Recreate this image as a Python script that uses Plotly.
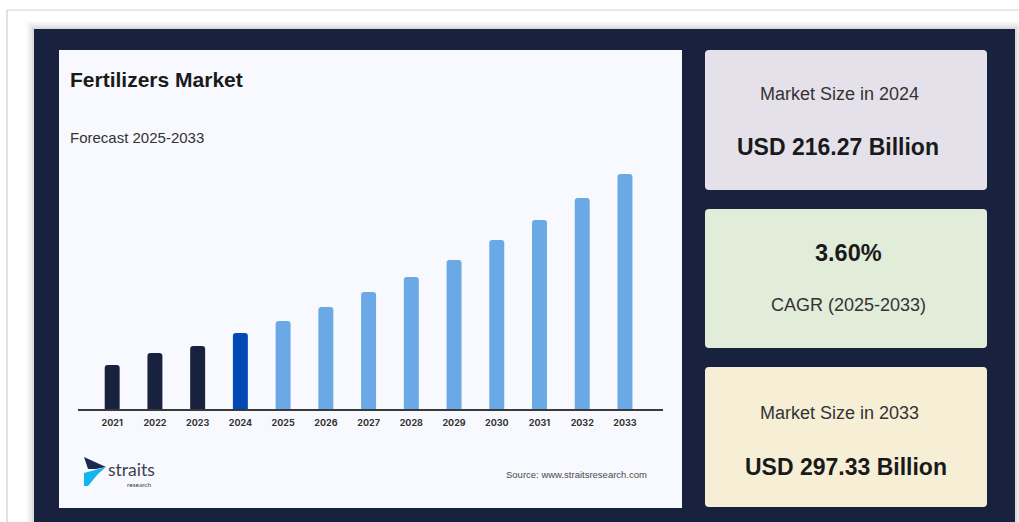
import plotly.graph_objects as go

# Fertilizers market size (USD billion), 2021-2033
years = ["2021", "2022", "2023", "2024", "2025", "2026", "2027",
         "2028", "2029", "2030", "2031", "2032", "2033"]
market_size = [199.95, 206.07, 209.64, 216.27, 222.38, 229.52, 237.17,
               244.81, 253.48, 263.68, 273.87, 285.09, 297.33]
bar_colors = ["#18223f", "#18223f", "#18223f", "#0249b4"] + ["#6aa8e6"] * 9

W, H = 1019, 522
NAVY = "#18223f"


def px(x):
    return x / W


def py(y):
    return 1 - y / H


def rounded_rect(x0, y0, x1, y1, r):
    pts = [
        ("M", x0 + r, y0), ("L", x1 - r, y0), ("Q", x1, y0, x1, y0 + r),
        ("L", x1, y1 - r), ("Q", x1, y1, x1 - r, y1), ("L", x0 + r, y1),
        ("Q", x0, y1, x0, y1 - r), ("L", x0, y0 + r), ("Q", x0, y0, x0 + r, y0),
    ]
    parts = []
    for p in pts:
        cmd, coords = p[0], p[1:]
        xy = []
        for i in range(0, len(coords), 2):
            xy.append(f"{px(coords[i]):.5f},{py(coords[i + 1]):.5f}")
        parts.append(cmd + " ".join(xy))
    return " ".join(parts) + " Z"


def poly(points):
    s = "M" + " L".join(f"{px(x):.5f},{py(y):.5f}" for x, y in points)
    return s + " Z"


shapes = []
# outer page frame
shapes.append(dict(type="line", xref="paper", yref="paper", x0=px(7), x1=1,
                   y0=py(10), y1=py(10), line=dict(color="#cfcfcf", width=1.2),
                   layer="below"))
shapes.append(dict(type="line", xref="paper", yref="paper", x0=px(7), x1=px(7),
                   y0=py(10), y1=0, line=dict(color="#cfcfcf", width=1.2),
                   layer="below"))
# soft shadow around the dark panel
for i, op in enumerate([0.02, 0.03, 0.04, 0.05]):
    g = 8 - 2 * i
    shapes.append(dict(type="rect", xref="paper", yref="paper",
                       x0=px(34 - g), x1=px(1015 + g), y0=py(524), y1=py(29 - g),
                       fillcolor="black", opacity=op, line=dict(width=0),
                       layer="below"))
# dark background panel
shapes.append(dict(type="rect", xref="paper", yref="paper",
                   x0=px(34), x1=px(1015), y0=py(524), y1=py(29),
                   fillcolor=NAVY, line=dict(width=0), layer="below"))
# chart card
shapes.append(dict(type="rect", xref="paper", yref="paper",
                   x0=px(59), x1=px(682), y0=py(508), y1=py(50),
                   fillcolor="#f8f9fe", line=dict(width=0), layer="below"))
# stat cards
for (y0, y1, col) in [(50, 190, "#e5e1ea"), (209, 348, "#e1ecd9"),
                      (367, 507, "#f6efd6")]:
    shapes.append(dict(type="path", xref="paper", yref="paper",
                       path=rounded_rect(705, y0, 987, y1, 4),
                       fillcolor=col, line=dict(width=0), layer="below"))
# logo mark
shapes.append(dict(type="path", xref="paper", yref="paper",
                   path=poly([(84, 457), (106, 467), (96, 469), (88, 469)]),
                   fillcolor="#1b2a4e", line=dict(width=0), layer="above"))
shapes.append(dict(type="path", xref="paper", yref="paper",
                   path=poly([(84, 473), (106, 467), (98, 474), (88, 486), (84, 486)]),
                   fillcolor="#12b5ee", line=dict(width=0), layer="above"))

FONT = "Liberation Sans, Arial, sans-serif"


def note(text, x, y, size, color="#222", bold=False, xanchor="center", family=FONT):
    if bold:
        text = f"<b>{text}</b>"
    return dict(text=text, xref="paper", yref="paper", x=px(x), y=py(y),
                xanchor=xanchor, yanchor="middle", showarrow=False,
                borderpad=0, font=dict(size=size, color=color, family=family))


annotations = [
    note("Fertilizers Market", 69, 80, 21, "#1a1a1a", True, "left"),
    note("Forecast 2025-2033", 69, 137, 15, "#333", False, "left"),
    note("Market Size in 2024", 839, 94, 18, "#333"),
    note("USD 216.27 Billion", 838, 147, 23, "#1a1a1a", True),
    note("3.60%", 848, 253, 23.5, "#1a1a1a", True),
    note("CAGR (2025-2033)", 848, 305, 18, "#333"),
    note("Market Size in 2033", 839, 413, 18, "#333"),
    note("USD 297.33 Billion", 846, 467, 23, "#1a1a1a", True),
    note("Source: www.straitsresearch.com", 505, 474, 9.5, "#4a4a4a", False, "left"),
    note("straits", 107, 469, 17.5, "#3c4150", False, "left", "Lato, sans-serif"),
    note("research", 126, 484, 6.5, "#3c4150", False, "left", "Lato, sans-serif"),
]

fig = go.Figure(go.Bar(
    x=years, y=market_size, marker=dict(color=bar_colors, line=dict(width=0)),
    width=0.35, hoverinfo="x+y",
))

fig.update_layout(
    width=W, height=H,
    margin=dict(l=0, r=0, t=0, b=0),
    paper_bgcolor="white", plot_bgcolor="rgba(0,0,0,0)",
    showlegend=False, barcornerradius=3,
    shapes=shapes, annotations=annotations,
    xaxis=dict(type="category", domain=[px(78), px(663)], range=[-0.8, 12.89],
               showline=True, linecolor="#3a3a3a", linewidth=1.5,
               showgrid=False, zeroline=False, ticks="outside", ticklen=4,
               tickcolor="rgba(0,0,0,0)",
               tickfont=dict(size=9, color="#333", family="Inter, " + FONT,
                             weight="bold")),
    yaxis=dict(domain=[py(409), py(150)], range=[177.52, 309.56],
               visible=False, showgrid=False, zeroline=False),
)

fig.write_html("out.html")
